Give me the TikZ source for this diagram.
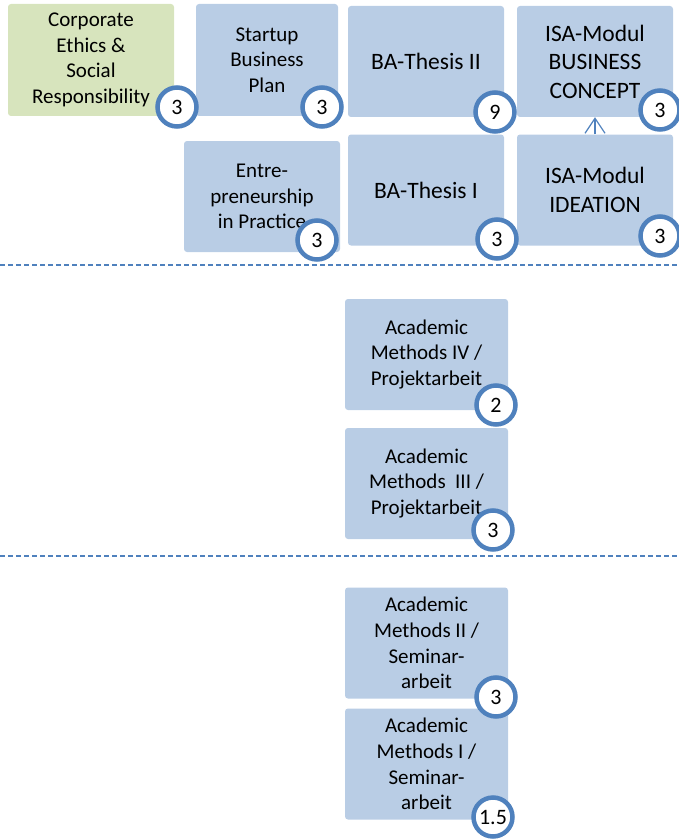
\documentclass[tikz,border=0pt]{standalone}
\usepackage{fontspec}
\setmainfont{Carlito}
\usetikzlibrary{arrows.meta}
\definecolor{boxblue}{HTML}{B9CDE5}
\definecolor{boxgreen}{HTML}{D7E4BD}
\definecolor{ringblue}{HTML}{4F81BD}

\begin{document}
\begin{tikzpicture}[x=1pt,y=-1pt,->,>={Straight Barb[length=15pt,width=20pt]},
			module node/.style={rectangle,rounded corners=3pt,fill=boxblue,minimum width=156pt,
				minimum height=111pt,inner sep=0pt,align=center,font=\fontsize{21}{25.7}\selectfont},
			big text/.style={font=\fontsize{23.5}{28.5}\selectfont},
			credit node/.style={circle,draw=ringblue,line width=4.5pt,fill=white,minimum size=39pt,
				inner sep=0pt,font=\fontsize{22}{25}\selectfont},
			semester line/.style={draw=ringblue,line width=1.3pt,dash pattern=on 5pt off 3pt}]
			\useasboundingbox (0,0) rectangle (679,840);
			% modules
			\node[module node, fill=boxgreen, minimum width=166pt, minimum height=112pt] (1) at (91,60) {Corporate\\Ethics \&\\Social\\Responsibility};
			\node[module node, minimum width=142pt, minimum height=112pt] (2) at (267,60) {Startup\\Business\\Plan};
			\node[module node] (3) at (262,196.5) {Entre-\\preneurship\\in Practice};
			\node[module node, big text] (4) at (426,61.5) {BA-Thesis II};
			\node[module node, big text] (5) at (426,190) {BA-Thesis I};
			\node[module node, big text] (6) at (595,61.5) {ISA-Modul\\BUSINESS\\CONCEPT};
			\node[module node, big text] (7) at (595,190) {ISA-Modul\\IDEATION};
			\node[module node, minimum width=163pt] (8) at (426.5,354.5) {Academic\\Methods IV /\\Projektarbeit};
			\node[module node, minimum width=163pt] (9) at (426.5,483.5) {Academic\\Methods\ \ III /\\Projektarbeit};
			\node[module node, minimum width=163pt] (10) at (426.5,643) {Academic\\Methods II /\\Seminar-\\arbeit};
			\node[module node, minimum width=163pt] (11) at (426.5,764) {Academic\\Methods I /\\Seminar-\\arbeit};
			\path (7) edge[draw=ringblue, line width=1.2pt] (6);
			% semesters
			\draw[semester line, -] (0,265) -- (679,265);
			\draw[semester line, -] (0,556) -- (679,556);
			% credits
			\node[credit node] (c1) at (177,107) {3};
			\node[credit node] (c2) at (322,107) {3};
			\node[credit node] (c3) at (317,240) {3};
			\node[credit node] (c4) at (495,112) {9};
			\node[credit node] (c5) at (497,239) {3};
			\node[credit node] (c6) at (660,110) {3};
			\node[credit node] (c7) at (660,236) {3};
			\node[credit node] (c8) at (496,405) {2};
			\node[credit node] (c9) at (493,530) {3};
			\node[credit node] (c10) at (496,697) {3};
			\node[credit node] (c11) at (493,817) {1.5};
		\end{tikzpicture}
\end{document}
